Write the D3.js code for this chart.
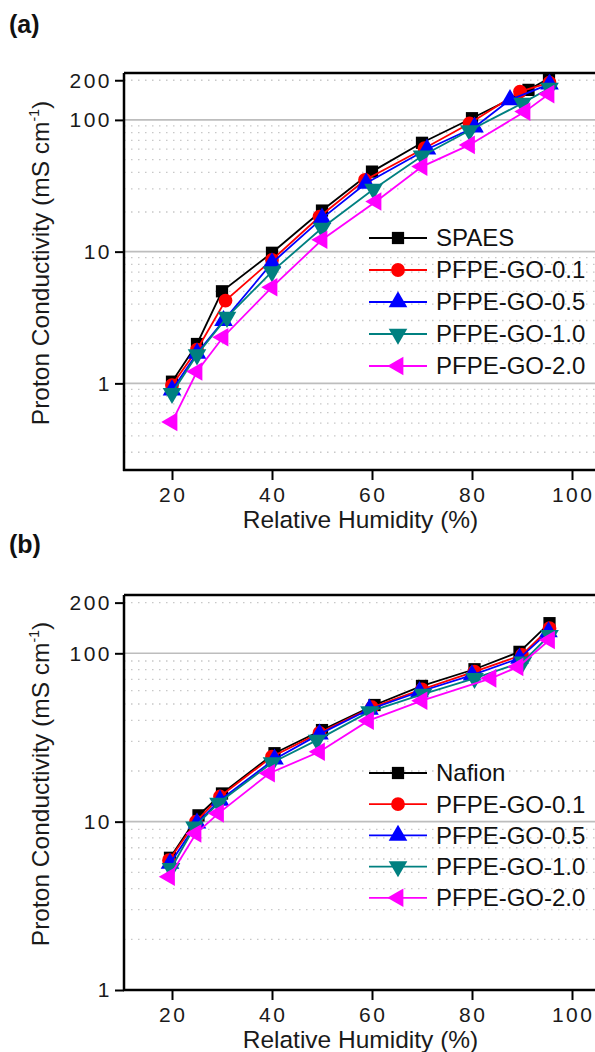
<!DOCTYPE html>
<html>
<head>
<meta charset="utf-8">
<script src="https://cdn.jsdelivr.net/npm/d3@7"></script>
<style>
  body { margin: 0; background: #fff; }
  svg { display: block; font-family: 'Liberation Sans', Arial, sans-serif; }
  .tick-label { font-size: 21px; letter-spacing: 2.5px; fill: #1a1a1a; }
  .axis-title { font-size: 24.5px; fill: #1a1a1a; }
  .legend-text { font-size: 24px; fill: #111; }
  .panel-label { font-size: 25px; font-weight: bold; fill: #111; }
</style>
</head>
<body>
<svg id="chart" width="595" height="1052"></svg>
<script>
// panel (a) : SPAES series
const spaesX = [20, 25, 30, 40, 50, 60, 70, 80, 91.3, 95.4]
const spaesY = [1.03, 1.99, 5.0, 9.8, 20.5, 40.5, 67, 103, 169, 207]
const aGo01X = [20, 25, 30.7, 40, 49.5, 58.6, 70.5, 79.5, 89.6, 95.5]
const aGo01Y = [0.97, 1.8, 4.25, 8.65, 18.4, 35, 61, 94, 164, 192]
const aGo05X = [20, 25, 30.3, 40, 50, 58.8, 71, 80.5, 87.6, 95.5]
const aGo05Y = [0.89, 1.69, 2.99, 8.2, 17.9, 33, 59.9, 88, 142, 187]
const aGo10X = [20, 25, 31, 40, 50, 60.3, 70, 79.5, 90.1, 95.5]
const aGo10Y = [0.84, 1.65, 3.18, 7.05, 15.1, 29.8, 53.3, 83, 134, 174]
const aGo20X = [20, 25, 30.2, 40, 50, 60.8, 70, 79.5, 90.6, 95.4]
const aGo20Y = [0.51, 1.23, 2.24, 5.37, 12.3, 24, 44.2, 64.6, 115.6, 157]

// panel (b) : Nafion series
const nafionX = [19.6, 25.3, 30, 40.5, 50, 60.5, 70, 80.5, 89.5, 95.5]
const nafionY = [6.1, 10.9, 14.7, 25.5, 35, 49.3, 64, 80.4, 102, 151]
const bGo01X = [19.4, 24.8, 29.6, 40, 49.5, 60, 70, 80.5, 90, 95.5]
const bGo01Y = [5.9, 10.0, 14.1, 24.3, 33.7, 47.8, 61.1, 77.8, 97.7, 141]
const bGo05X = [19.6, 25, 29.6, 40.5, 49.5, 59.5, 69.5, 80, 89.5, 95.3]
const bGo05Y = [5.65, 9.8, 13.4, 23.5, 33.1, 46.5, 59.1, 74.3, 93.4, 134]
const bGo10X = [19.8, 24.5, 29.3, 40, 49, 59.5, 70.2, 80.5, 90.2, 95.5]
const bGo10Y = [5.27, 9.3, 12.9, 22.4, 30.5, 45, 57.3, 71, 89, 128]
const bGo20X = [19.5, 24.8, 29.3, 39.5, 49.5, 59.3, 70, 83.8, 89.2, 95.5]
const bGo20Y = [4.71, 8.5, 11.2, 19.4, 26, 39.8, 52.3, 71, 83, 120]

const namesA = ['SPAES', 'PFPE-GO-0.1', 'PFPE-GO-0.5', 'PFPE-GO-1.0', 'PFPE-GO-2.0']
const namesB = ['Nafion', 'PFPE-GO-0.1', 'PFPE-GO-0.5', 'PFPE-GO-1.0', 'PFPE-GO-2.0']

const xMajorTicks = [20, 40, 60, 80, 100]
const xMinorTicks = [30, 50, 70, 90]
const yLabelTicks = [1, 10, 100, 200]

const colors = ['#000000', '#ff0000', '#0000ff', '#008080', '#ff00ff']
const symbols = [d3.symbolSquare, d3.symbolCircle, d3.symbolTriangle, d3.symbolTriangle, d3.symbolTriangle]
const symbolSize = [150, 150, 150, 150, 150]
const symbolRot = [0, 0, 0, 180, -90]

const svg = d3.select('#chart')

const drawPanel = cfg => {
  const { top, bottom, yDomain, xs, ys, names, label, legendTop, legendStep, titleY } = cfg
  const left = 124, right = 597

  const xScale = d3.scaleLinear().
    domain([10.4, 105]).
    range([left, right])

  const yScale = d3.scaleLog().
    domain(yDomain).
    range([bottom, top])

  const g = svg.append('g')

  // minor values
  const lo = Math.floor(Math.log10(yDomain[0]))
  const minor = []
  for (let e = lo; e <= 2; e++) {
    for (let m = 2; m <= 9; m++) {
      const v = m * Math.pow(10, e)
      if (v > yDomain[0] && v < yDomain[1]) minor.push(+v.toPrecision(3))
    }
  }
  const majors = [0.1, 1, 10, 100].filter(v => v > yDomain[0] && v < yDomain[1])

  g.selectAll('.grid-minor').
    data(minor).
    enter().
    append('line').
    attr('x1', left).
    attr('x2', right).
    attr('y1', d => yScale(d)).
    attr('y2', d => yScale(d)).
    attr('stroke', '#c8c8c8').
    attr('stroke-width', 1.3).
    attr('stroke-dasharray', '1.5,5.5')

  g.selectAll('.grid-major').
    data(majors).
    enter().
    append('line').
    attr('x1', left).
    attr('x2', right).
    attr('y1', d => yScale(d)).
    attr('y2', d => yScale(d)).
    attr('stroke', '#bdbdbd').
    attr('stroke-width', 1.6)

  // series
  const series = names.map((name, i) => ({
    name, i, pts: xs[i].map((x, k) => ({ x, y: ys[i][k] }))
  }))

  const line = d3.line().
    x(d => xScale(d.x)).
    y(d => yScale(d.y))

  series.forEach(s => {
    g.append('path').
      attr('d', line(s.pts)).
      attr('fill', 'none').
      attr('stroke', colors[s.i]).
      attr('stroke-width', 1.8)
    g.selectAll(null).
      data(s.pts).
      enter().
      append('path').
      attr('d', d3.symbol().type(symbols[s.i]).size(symbolSize[s.i])).
      attr('transform', d => `translate(${xScale(d.x)},${yScale(d.y)}) rotate(${symbolRot[s.i]})`).
      attr('fill', colors[s.i])
  })

  // frame
  g.append('line').
    attr('x1', left).attr('x2', right).
    attr('y1', top).attr('y2', top).
    attr('stroke', '#000').attr('stroke-width', 2.5)
  g.append('line').
    attr('x1', right).attr('x2', right).
    attr('y1', top).attr('y2', bottom).
    attr('stroke', '#000').attr('stroke-width', 2.5)

  // y axis
  const yAxisG = g.append('g').attr('transform', `translate(${left},0)`)
  yAxisG.call(d3.axisLeft(yScale).tickValues(minor).tickSize(5).tickFormat(''))
  yAxisG.call(d3.axisLeft(yScale).tickValues(yLabelTicks).tickSize(9).tickFormat(''))
  yAxisG.selectAll('.domain').remove()
  yAxisG.selectAll('line').attr('stroke', '#000').attr('stroke-width', 2)
  yAxisG.append('line').
    attr('y1', top).attr('y2', bottom + 1).
    attr('stroke', '#000').attr('stroke-width', 2.5)
  yAxisG.selectAll('.ylab').
    data(yLabelTicks).
    enter().
    append('text').
    attr('class', 'tick-label').
    attr('x', -12).
    attr('y', d => yScale(d)).
    attr('dy', '0.35em').
    attr('text-anchor', 'end').
    text(d => d)

  // x axis
  const xAxisG = g.append('g').attr('transform', `translate(0,${bottom})`)
  xAxisG.call(d3.axisBottom(xScale).tickValues(xMinorTicks).tickSize(6).tickFormat(''))
  xAxisG.call(d3.axisBottom(xScale).tickValues(xMajorTicks).tickSize(10).tickFormat(''))
  xAxisG.selectAll('.domain').remove()
  xAxisG.selectAll('line').attr('stroke', '#000').attr('stroke-width', 2)
  xAxisG.append('line').
    attr('x1', left - 1).attr('x2', right).
    attr('stroke', '#000').attr('stroke-width', 2.5)
  xAxisG.selectAll('.xlab').
    data(xMajorTicks).
    enter().
    append('text').
    attr('class', 'tick-label').
    attr('x', d => xScale(d) + 1.2).
    attr('y', 32).
    attr('text-anchor', 'middle').
    text(d => d)

  // axis titles
  g.append('text').
    attr('class', 'axis-title').
    attr('x', (left + right) / 2).
    attr('y', bottom + 58).
    attr('text-anchor', 'middle').
    text('Relative Humidity (%)')

  const yt = g.append('text').
    attr('class', 'axis-title').
    attr('transform', `translate(49,${titleY}) rotate(-90)`).
    attr('text-anchor', 'middle')
  yt.append('tspan').text('Proton Conductivity (mS cm')
  yt.append('tspan').attr('font-size', '14px').attr('dy', '-10').text('-1')
  yt.append('tspan').attr('dy', '10').text(')')

  // panel label
  svg.append('text').
    attr('class', 'panel-label').
    attr('x', 9).
    attr('y', label.y).
    text(label.text)

  // legend
  const lg = g.append('g')
  series.forEach(s => {
    const y = legendTop + s.i * legendStep
    lg.append('line').
      attr('x1', 369).attr('x2', 427).
      attr('y1', y).attr('y2', y).
      attr('stroke', colors[s.i]).
      attr('stroke-width', 1.8)
    lg.append('path').
      attr('d', d3.symbol().type(symbols[s.i]).size(symbolSize[s.i])).
      attr('transform', `translate(398,${y}) rotate(${symbolRot[s.i]})`).
      attr('fill', colors[s.i])
    lg.append('text').
      attr('class', 'legend-text').
      attr('x', 436).
      attr('y', y).
      attr('dy', '0.35em').
      text(s.name)
  })
}

drawPanel({
  top: 73, bottom: 470, yDomain: [0.22, 227],
  xs: [spaesX, aGo01X, aGo05X, aGo10X, aGo20X],
  ys: [spaesY, aGo01Y, aGo05Y, aGo10Y, aGo20Y],
  names: namesA, label: { text: '(a)', y: 33 },
  legendTop: 238, legendStep: 32, titleY: 263
})

drawPanel({
  top: 595, bottom: 990, yDomain: [1, 222],
  xs: [nafionX, bGo01X, bGo05X, bGo10X, bGo20X],
  ys: [nafionY, bGo01Y, bGo05Y, bGo10Y, bGo20Y],
  names: namesB, label: { text: '(b)', y: 553 },
  legendTop: 773, legendStep: 31.2, titleY: 784
})
</script>
</body>
</html>
